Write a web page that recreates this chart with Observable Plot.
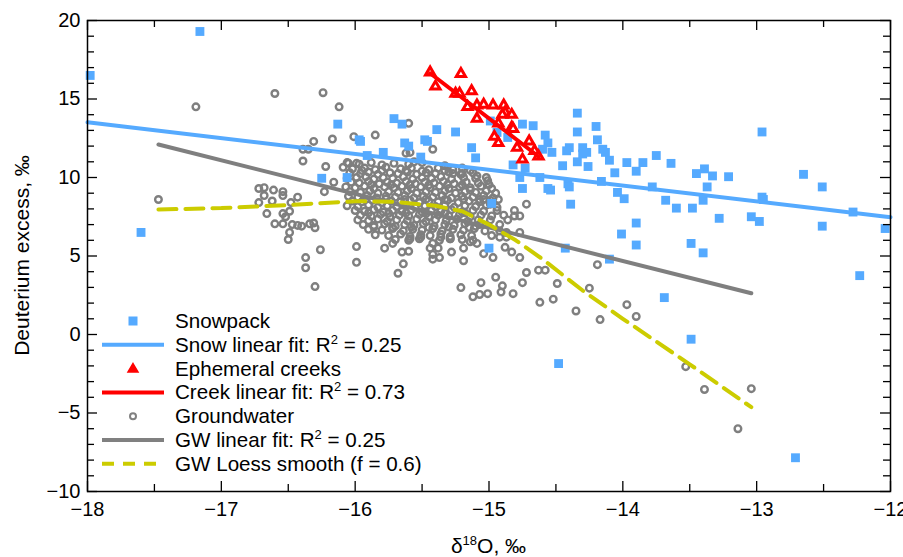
<!DOCTYPE html>
<html>
<head>
<meta charset="utf-8">
<script src="https://cdn.jsdelivr.net/npm/d3@7"></script>
<script src="https://cdn.jsdelivr.net/npm/@observablehq/plot@0.6"></script>
<style>
  body { margin: 0; background: white; }
</style>
</head>
<body>
<div id="chart"></div>
<script>
// ---------- DATA ----------
const snowpack = [
  [-17.98,16.5],[-17.16,19.3],[-17.6,6.5],[-16.13,13.4],[-16.25,9.95],[-15.71,13.75],[-15.65,13.4],
  [-15.39,13.05],[-15.25,12.9],[-15.48,12.4],[-15.97,12.4],[-14.99,13.6],[-14.94,12.87],[-14.86,12.55],
  [-14.75,13.4],[-14.67,13.3],[-14.58,12.7],[-15.63,12.2],[-15.46,12.3],[-15.79,11.6],[-15.51,11.3],
  [-15.13,11.9],[-15.1,11.25],[-14.56,12.2],[-14.6,11.8],[-14.53,11.6],[-14.82,10.8],[-14.73,10.6],
  [-14.45,10.75],[-14.4,11.9],[-14.34,14.1],[-14.34,12.9],[-14.42,11.7],[-14.41,9.6],[-14.4,9.4],
  [-14.39,8.3],[-14.54,9.2],[-14.34,11.0],[-14.3,11.9],[-14.3,11.5],[-14.27,11.6],[-14.26,10.7],
  [-14.2,13.25],[-14.19,12.4],[-14.15,11.8],[-14.13,11.6],[-14.1,11.1],[-14.16,9.75],[-14.06,10.3],
  [-14.04,9.05],[-13.99,8.65],[-14.01,6.4],[-13.9,7.1],[-13.9,5.7],[-13.97,10.95],[-13.9,10.4],
  [-13.85,10.95],[-13.75,11.4],[-13.78,9.4],[-13.68,8.55],[-13.64,10.9],[-13.6,8.05],[-13.48,8.05],
  [-13.49,5.8],[-13.45,10.25],[-13.39,10.55],[-13.37,9.4],[-13.33,10.1],[-13.4,8.55],[-13.4,5.2],
  [-13.28,7.4],[-13.21,10.05],[-13.04,7.5],[-12.98,7.2],[-12.96,12.9],[-12.96,8.75],[-12.95,8.6],
  [-12.65,10.2],[-12.51,9.4],[-12.51,6.9],[-12.28,7.8],[-12.23,3.75],[-12.04,6.75],[-14.43,5.5],
  [-14.1,4.8],[-13.69,2.35],[-13.49,-0.3],[-14.48,-1.85],[-12.71,-7.85],[-15.0,5.5],[-15.96,12.3],
  [-15.91,11.4],[-15.6,12.0],[-14.98,8.35],[-14.77,10.0],[-14.75,9.3],[-14.62,10.0],[-14.56,9.3],
  [-16.06,10.0]
];

const creeks = [
  [-15.44,16.7],[-15.21,16.6],[-15.4,15.8],[-15.25,15.35],[-15.22,15.35],[-15.13,15.5],[-15.16,14.5],
  [-15.09,14.6],[-15.04,14.65],[-14.97,14.6],[-14.89,14.6],[-14.88,14.15],[-14.83,14.0],[-14.9,14.0],
  [-15.09,13.75],[-14.93,13.45],[-14.83,13.2],[-14.82,13.1],[-14.96,12.6],[-14.93,12.2],[-14.79,11.9],
  [-14.7,12.3],[-14.66,11.7],[-14.63,11.35],[-14.75,11.15]
];

const groundwater = [
  // outliers and left group
  [-17.47,8.6],[-17.19,14.5],[-16.6,15.35],[-16.24,15.4],[-16.12,14.5],[-15.6,13.45],[-16.31,12.3],
  [-16.17,12.45],[-16.01,12.6],[-15.85,12.7],[-16.39,11.8],[-16.35,11.8],[-16.39,11.05],[-16.22,10.7],
  [-16.16,9.7],[-16.23,9.1],
  [-16.72,9.3],[-16.68,9.35],[-16.61,9.2],[-16.54,9.1],[-16.54,8.85],[-16.68,8.85],[-16.62,8.5],
  [-16.72,8.4],[-16.43,8.75],[-16.48,8.4],[-16.66,7.7],[-16.54,7.7],[-16.49,7.85],[-16.52,7.5],
  [-16.54,7.05],[-16.6,7.05],[-16.47,7.0],[-16.43,6.95],[-16.4,6.9],[-16.49,6.5],[-16.5,6.05],
  [-16.34,7.05],[-16.3,6.8],[-16.31,7.1],[-16.26,5.4],[-16.37,4.9],[-16.37,4.25],[-16.3,3.05],
  // upper periphery of the main cluster
  [-16.06,10.95],[-15.99,10.9],[-16.09,10.65],[-15.42,11.8],[-15.62,11.55],[-15.33,10.75],[-15.21,10.2],
  [-15.09,10.1],[-15.01,9.8],[-14.93,8.6],[-14.72,8.3],[-14.81,7.9],[-15.59,11.6],[-15.56,11.0],
  // lower and right tail
  [-15.99,5.6],[-15.99,4.6],[-15.68,3.9],[-15.64,4.5],[-15.78,5.5],[-15.72,5.8],[-15.65,5.25],[-15.6,5.3],
  [-15.42,5.8],[-15.37,4.9],[-15.19,4.7],[-15.28,5.25],[-15.21,2.99],[-15.12,2.4],[-15.07,2.55],
  [-15.01,2.6],[-15.06,3.3],[-14.95,3.65],[-14.91,2.7],[-14.9,3.1],[-14.82,2.6],[-14.75,3.3],
  [-14.72,3.95],[-14.63,4.1],[-14.58,4.1],[-14.62,2.05],[-14.77,4.9],[-14.83,5.25],[-14.88,5.55],
  [-14.97,4.9],[-14.98,6.3],[-14.92,6.2],[-14.87,6.5],[-14.77,6.5],[-15.04,5.15],[-15.09,5.8],
  [-15.14,5.9],[-15.19,5.5],[-15.38,5.5],[-14.52,2.25],[-14.49,3.25],[-14.35,1.5],[-14.25,2.95],
  [-14.19,4.45],[-14.17,0.95],[-13.97,1.9],[-13.9,1.15],[-13.53,-2.05],[-13.39,-3.5],[-13.04,-3.45],
  [-13.14,-6.0],[-15.59,6.1],[-15.51,6.2],[-15.44,5.5],[-15.42,5.1],[-15.42,4.8],[-15.29,6.1],[-15.36,6.2],
  [-15.14,10.45],[-15.2,10.25],[-15.27,10.25],[-15.14,9.2],[-15.07,8.6],[-14.99,8.3],[-14.94,7.9],
  [-14.89,7.6],[-14.86,7.3],[-14.99,7.3],[-15.07,7.0],[-14.92,7.0],[-14.81,7.55],[-14.77,7.55],
  [-14.92,6.6],[-14.87,6.2],
  // dense core
  [-16.05,10.9],[-15.97,10.85],[-15.88,10.95],[-15.8,10.8],[-15.71,10.9],[-15.6,10.85],[-15.5,10.95],
  [-16.02,10.55],[-15.93,10.6],[-15.85,10.5],[-15.77,10.65],[-15.66,10.55],[-15.58,10.6],[-15.45,10.5],
  [-15.38,10.6],[-15.27,10.5],[-15.2,10.6],
  [-16.04,10.3],[-15.96,10.25],[-15.9,10.35],[-15.83,10.2],[-15.74,10.3],[-15.68,10.25],[-15.61,10.35],
  [-15.54,10.2],[-15.47,10.3],[-15.4,10.25],[-15.3,10.35],[-15.21,10.2],[-15.12,10.3],
  [-16.06,9.95],[-15.99,10.0],[-15.92,10.05],[-15.86,9.9],[-15.79,10.0],[-15.72,9.95],[-15.64,10.05],
  [-15.57,9.9],[-15.5,10.0],[-15.43,9.95],[-15.36,10.05],[-15.28,9.9],[-15.19,10.0],[-15.1,9.95],[-15.02,10.0],
  [-16.03,9.7],[-15.97,9.65],[-15.9,9.75],[-15.82,9.6],[-15.76,9.7],[-15.69,9.65],[-15.62,9.75],
  [-15.55,9.6],[-15.48,9.7],[-15.41,9.65],[-15.34,9.75],[-15.26,9.6],[-15.17,9.7],[-15.08,9.65],[-15.0,9.55],
  [-16.07,9.4],[-16.0,9.35],[-15.93,9.45],[-15.86,9.3],[-15.78,9.4],[-15.71,9.35],[-15.65,9.45],
  [-15.58,9.3],[-15.51,9.4],[-15.44,9.35],[-15.37,9.45],[-15.3,9.3],[-15.22,9.4],[-15.14,9.35],
  [-15.06,9.45],[-14.98,9.3],
  [-16.04,9.1],[-15.96,9.05],[-15.89,9.15],[-15.83,9.0],[-15.75,9.1],[-15.68,9.05],[-15.61,9.15],
  [-15.54,9.0],[-15.47,9.1],[-15.4,9.05],[-15.33,9.15],[-15.25,9.0],[-15.18,9.1],[-15.1,9.05],
  [-15.02,9.15],[-14.95,9.0],
  [-16.05,8.8],[-15.98,8.75],[-15.91,8.85],[-15.84,8.7],[-15.77,8.8],[-15.7,8.75],[-15.63,8.85],
  [-15.56,8.7],[-15.49,8.8],[-15.42,8.75],[-15.35,8.85],[-15.28,8.7],[-15.2,8.8],[-15.12,8.75],
  [-15.04,8.85],[-14.97,8.7],
  [-16.02,8.5],[-15.95,8.45],[-15.87,8.55],[-15.8,8.4],[-15.73,8.5],[-15.66,8.45],[-15.59,8.55],
  [-15.52,8.4],[-15.45,8.5],[-15.38,8.45],[-15.31,8.55],[-15.23,8.4],[-15.15,8.5],[-15.07,8.45],[-14.99,8.55],
  [-16.06,8.2],[-15.98,8.15],[-15.9,8.25],[-15.83,8.1],[-15.76,8.2],[-15.69,8.15],[-15.62,8.25],
  [-15.55,8.1],[-15.48,8.2],[-15.4,8.15],[-15.33,8.25],[-15.26,8.1],[-15.18,8.2],[-15.1,8.15],
  [-15.02,8.25],[-14.94,8.1],
  [-16.0,7.9],[-15.93,7.85],[-15.86,7.95],[-15.79,7.8],[-15.72,7.9],[-15.65,7.85],[-15.58,7.95],
  [-15.5,7.8],[-15.43,7.9],[-15.36,7.85],[-15.28,7.95],[-15.2,7.8],[-15.12,7.9],[-15.04,7.85],
  [-15.96,7.6],[-15.88,7.55],[-15.81,7.65],[-15.74,7.5],[-15.67,7.6],[-15.6,7.55],[-15.52,7.65],
  [-15.45,7.5],[-15.38,7.6],[-15.3,7.55],[-15.22,7.65],[-15.14,7.5],[-15.06,7.6],[-14.98,7.55],
  [-15.98,7.3],[-15.9,7.25],[-15.83,7.35],[-15.76,7.2],[-15.69,7.3],[-15.61,7.25],[-15.54,7.35],
  [-15.47,7.2],[-15.4,7.3],[-15.32,7.25],[-15.24,7.35],[-15.16,7.2],[-15.08,7.3],
  [-15.94,7.0],[-15.86,6.95],[-15.78,7.05],[-15.7,6.9],[-15.63,7.0],[-15.56,6.95],[-15.49,7.05],
  [-15.41,6.9],[-15.33,7.0],[-15.26,6.95],[-15.18,7.05],[-15.1,6.9],
  [-15.9,6.7],[-15.8,6.65],[-15.72,6.75],[-15.64,6.6],[-15.57,6.7],[-15.5,6.65],[-15.42,6.75],
  [-15.35,6.6],[-15.27,6.7],[-15.19,6.65],[-15.11,6.75],[-15.03,6.6],
  [-15.85,6.35],[-15.75,6.3],[-15.66,6.4],[-15.59,6.25],[-15.51,6.35],[-15.44,6.3],[-15.36,6.4],
  [-15.29,6.25],[-15.21,6.35],[-15.13,6.3],
  [-15.7,6.05],[-15.6,6.0],[-15.52,6.1],[-15.37,6.0],[-15.29,6.1],[-15.2,6.05],[-15.12,6.0],
  // in-between fill of the dense core
  [-15.95,10.45],[-15.8,10.45],[-15.62,10.45],[-15.5,10.4],[-15.33,10.45],
  [-15.88,9.55],[-15.73,9.55],[-15.59,9.55],[-15.45,9.52],[-15.31,9.55],[-15.2,9.52],
  [-15.92,8.62],[-15.77,8.62],[-15.63,8.6],[-15.47,8.62],[-15.33,8.6],[-15.19,8.62],[-15.04,8.6],
  [-15.9,7.75],[-15.75,7.72],[-15.62,7.75],[-15.47,7.7],[-15.33,7.72],[-15.18,7.75],
  [-15.86,6.85],[-15.72,6.82],[-15.58,6.85],[-15.45,6.82],[-15.3,6.85],[-15.15,6.82]
];

const snowFit = [[-18, 13.52], [-12, 7.47]];
const creekFit = [[-15.44, 16.64], [-14.63, 11.34]];
const gwFit = [[-17.47, 12.1], [-13.04, 2.63]];
const loessX = [-17.47, -17.0, -16.5, -16.0, -15.7, -15.4, -15.2, -15.0, -14.8, -14.6, -14.3, -14.0, -13.5, -13.04];
const loessY = [7.96, 8.05, 8.25, 8.49, 8.45, 8.2, 7.85, 7.0, 6.0, 4.8, 2.8, 1.0, -1.9, -4.63];

const xMajor = [-18, -17, -16, -15, -14, -13, -12];
const xMinor = [-17.5, -16.5, -15.5, -14.5, -13.5, -12.5];
const yMajor = [-10, -5, 0, 5, 10, 15, 20];
const yMinor = [-9, -8, -7, -6, -4, -3, -2, -1, 1, 2, 3, 4, 6, 7, 8, 9, 11, 12, 13, 14, 16, 17, 18, 19];

const legendItems = [
  {kind: "square", color: "#55aaff", label: "Snowpack"},
  {kind: "line", color: "#55aaff", label: "Snow linear fit: R", sup: "2", tail: " = 0.25"},
  {kind: "triangle", color: "#ff0000", label: "Ephemeral creeks"},
  {kind: "line", color: "#ff0000", label: "Creek linear fit: R", sup: "2", tail: " = 0.73"},
  {kind: "circle", color: "#808080", label: "Groundwater"},
  {kind: "line", color: "#808080", label: "GW linear fit: R", sup: "2", tail: " = 0.25"},
  {kind: "dash", color: "#cccc00", label: "GW Loess smooth (f = 0.6)"}
];

// ---------- CHART ----------
const W = 903, H = 557, ML = 87, MR = 13, MT = 20, MB = 66;
const PW = W - ML - MR, PH = H - MT - MB;
const fmt = d => d < 0 ? "\u2212" + Math.abs(d) : String(d);
const loess = loessX.map((x, i) => [x, loessY[i]]);
const BLUE = "#55aaff", GRAY = "#7f7f7f", RED = "#ff0000", OLIVE = "#cccc00";

const plot = Plot.plot({
  width: W, height: H,
  marginLeft: ML, marginRight: MR, marginTop: MT, marginBottom: MB,
  x: {domain: [-18, -12]},
  y: {domain: [-10, 20]},
  style: {fontFamily: "'Liberation Sans', Arial, sans-serif", fontSize: "20px", color: "black", background: "white"},
  marks: [
    Plot.dot(groundwater, {x: d => d[0], y: d => d[1], r: 3.3, stroke: GRAY, strokeWidth: 2.4, fill: "none"}),
    Plot.dot(snowpack, {x: d => d[0], y: d => d[1], symbol: "square", r: 5, fill: BLUE}),
    Plot.line(snowFit, {x: d => d[0], y: d => d[1], stroke: BLUE, strokeWidth: 4}),
    Plot.line(gwFit, {x: d => d[0], y: d => d[1], stroke: GRAY, strokeWidth: 4}),
    Plot.line(loess, {x: d => d[0], y: d => d[1], stroke: OLIVE, strokeWidth: 4, strokeDasharray: "18,9"}),
    Plot.dot(creeks, {x: d => d[0], y: d => d[1], symbol: "triangle", r: 3.4, stroke: RED, fill: "white", strokeWidth: 3}),
    Plot.line(creekFit, {x: d => d[0], y: d => d[1], stroke: RED, strokeWidth: 4}),
    Plot.frame({stroke: "black", strokeWidth: 1.5}),
    // inward ticks on all four sides
    Plot.tickX(xMajor, {x: d => d, insetTop: PH - 10, stroke: "black", strokeWidth: 1.3}),
    Plot.tickX(xMinor, {x: d => d, insetTop: PH - 7, stroke: "black", strokeWidth: 1.3}),
    Plot.tickX(xMajor, {x: d => d, insetBottom: PH - 10, stroke: "black", strokeWidth: 1.3}),
    Plot.tickX(xMinor, {x: d => d, insetBottom: PH - 7, stroke: "black", strokeWidth: 1.3}),
    Plot.tickY(yMajor, {y: d => d, insetRight: PW - 10, stroke: "black", strokeWidth: 1.3}),
    Plot.tickY(yMinor, {y: d => d, insetRight: PW - 7, stroke: "black", strokeWidth: 1.3}),
    Plot.tickY(yMajor, {y: d => d, insetLeft: PW - 10, stroke: "black", strokeWidth: 1.3}),
    Plot.tickY(yMinor, {y: d => d, insetLeft: PW - 7, stroke: "black", strokeWidth: 1.3}),
    Plot.axisX(xMajor, {tickSize: 0, tickPadding: 10, tickFormat: fmt, fontSize: 20, label: null}),
    Plot.axisY(yMajor, {tickSize: 0, tickPadding: 7, tickFormat: fmt, fontSize: 20, label: null})
  ]
});

document.getElementById("chart").appendChild(plot);

const svg = d3.select(plot);
const font = "'Liberation Sans', Arial, sans-serif";

// axis titles
svg.append("text")
  .attr("transform", `translate(29,${MT + PH / 2}) rotate(-90)`)
  .attr("text-anchor", "middle")
  .attr("font-family", font).attr("font-size", 21).attr("fill", "black")
  .text("Deuterium excess, \u2030");

const xt = svg.append("text")
  .attr("x", ML + PW / 2).attr("y", 553)
  .attr("text-anchor", "middle")
  .attr("font-family", font).attr("font-size", 21).attr("fill", "black");
xt.append("tspan").text("\u03b4");
xt.append("tspan").attr("font-size", 13).attr("dy", -8).text("18");
xt.append("tspan").attr("dy", 8).text("O, \u2030");

// legend
const lg = svg.append("g").attr("font-family", font).attr("font-size", 20.6).attr("fill", "black").attr("text-anchor", "start");
legendItems.forEach((it, i) => {
  const cy = 321 + i * 23.8;
  const g = lg.append("g");
  if (it.kind === "square") {
    g.append("rect").attr("x", 128.5).attr("y", cy - 4.5).attr("width", 9).attr("height", 9).attr("fill", it.color);
  } else if (it.kind === "triangle") {
    g.append("path").attr("d", `M133,${cy - 5}L138,${cy + 3.5}L128,${cy + 3.5}Z`).attr("fill", it.color).attr("stroke", it.color).attr("stroke-width", 1.5);
  } else if (it.kind === "circle") {
    g.append("circle").attr("cx", 133).attr("cy", cy).attr("r", 3).attr("fill", "none").attr("stroke", it.color).attr("stroke-width", 2);
  } else {
    g.append("line").attr("x1", 102).attr("x2", 164).attr("y1", cy).attr("y2", cy)
      .attr("stroke", it.color).attr("stroke-width", 4)
      .attr("stroke-dasharray", it.kind === "dash" ? "12,9" : null);
  }
  const t = g.append("text").attr("x", 175).attr("y", cy + 7).attr("text-anchor", "start");
  t.append("tspan").text(it.label);
  if (it.sup) {
    t.append("tspan").attr("font-size", 13).attr("dy", -8).text(it.sup);
    t.append("tspan").attr("dy", 8).text(it.tail);
  }
});
</script>
</body>
</html>
